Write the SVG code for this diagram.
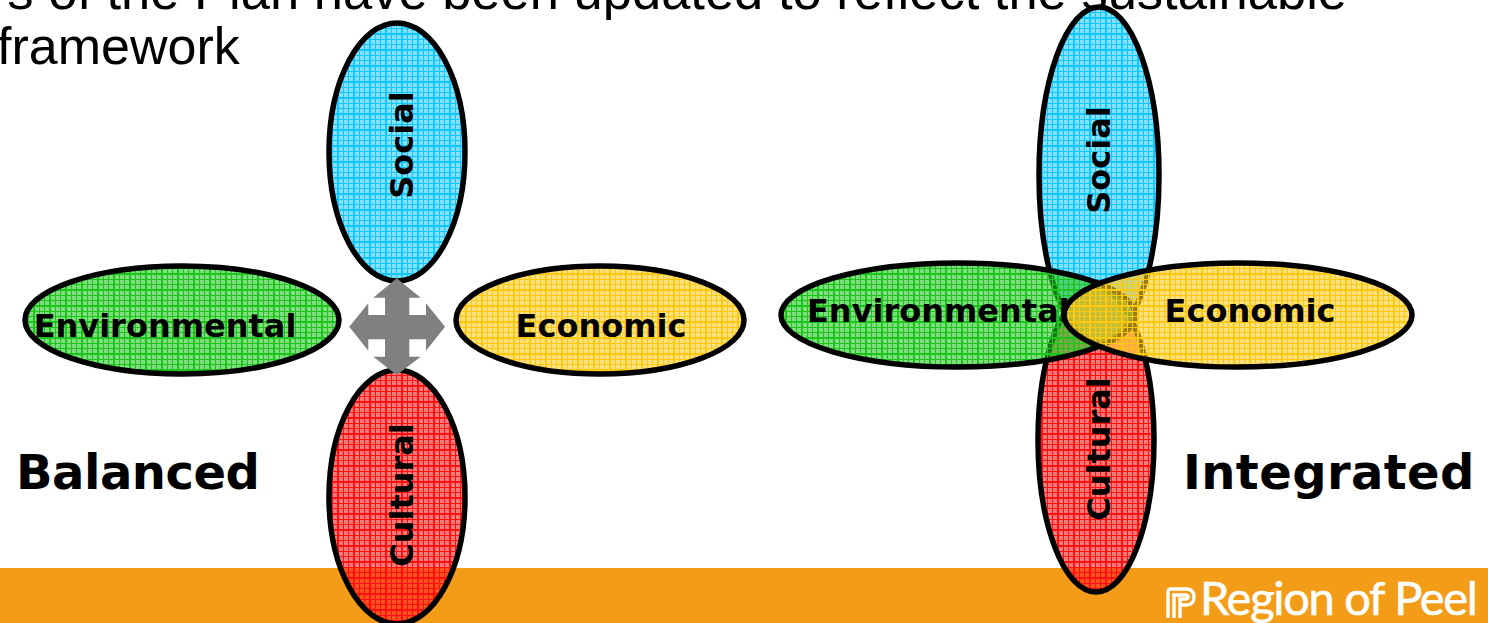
<svg xmlns="http://www.w3.org/2000/svg" width="1488" height="623" viewBox="0 0 1488 623">
<style>
.o{stroke:#000;stroke-width:5.5}
.l{font-family:"DejaVu Sans",Verdana,sans-serif;font-weight:700;fill:#000;font-size:32px}
.h{font-family:"DejaVu Sans",Verdana,sans-serif;font-weight:700;fill:#000;font-size:48px}
.b{font-family:"Liberation Sans",Arial,sans-serif;font-size:52.5px;fill:#000}
.g{fill:none}
</style>
<defs>
<pattern id="pb" width="16" height="16" patternUnits="userSpaceOnUse"><rect width="16" height="16" fill="#30ccff" fill-opacity=".6"/><path class="g" stroke="#10c8ff" stroke-width="2" d="M2 0V16M0 2H16"/><path class="g" stroke="#10c8ff" d="M7.5 0V16M12.5 0V16M0 7.5H16M0 12.5H16"/></pattern>
<pattern id="pg" width="16" height="16" patternUnits="userSpaceOnUse"><rect width="16" height="16" fill="#28c828" fill-opacity=".6"/><path class="g" stroke="#1cc41c" stroke-width="2" d="M2 0V16M0 2H16"/><path class="g" stroke="#1cc41c" d="M7.5 0V16M12.5 0V16M0 7.5H16M0 12.5H16"/></pattern>
<pattern id="py" width="16" height="16" patternUnits="userSpaceOnUse"><rect width="16" height="16" fill="#ffcc28" fill-opacity=".6"/><path class="g" stroke="#fcc810" stroke-width="2" d="M2 0V16M0 2H16"/><path class="g" stroke="#fcc810" d="M7.5 0V16M12.5 0V16M0 7.5H16M0 12.5H16"/></pattern>
<pattern id="pr" width="16" height="16" patternUnits="userSpaceOnUse"><rect width="16" height="16" fill="#ff2020" fill-opacity=".6"/><path class="g" stroke="#ff1010" stroke-width="2" d="M2 0V16M0 2H16"/><path class="g" stroke="#ff1010" d="M7.5 0V16M12.5 0V16M0 7.5H16M0 12.5H16"/></pattern>
</defs>
<rect width="1488" height="623" fill="#fff"/>
<g id="heading">
<text class="b" x="1347" y="9" text-anchor="end">s of the Plan have been updated to reflect the sustainable</text>
<text class="b" style="font-size:52px" x="-3" y="64">framework</text>
</g>
<g id="footer">
<rect x="0" y="568" width="1488" height="55" fill="#f39c18"/>
<path d="M1168 618V592Q1168 589 1171 589H1186Q1194 589 1194 597Q1194 605 1186 605H1180M1174 618V595H1185Q1188 595 1188 597Q1188 599 1185 599H1180V618" fill="none" stroke="#fff" stroke-width="3.4"/>
<text x="1200" y="615" font-family="Lato,'Open Sans',sans-serif" font-size="47" fill="#fff" stroke="#fff" stroke-width=".6" letter-spacing="-1.3">Region of Peel</text>
</g>
<g id="balanced-social"><ellipse class="o" cx="397" cy="152" rx="68" ry="129" fill="url(#pb)"/><text class="l" transform="translate(413,145) rotate(-90)" text-anchor="middle">Social</text></g>
<g id="balanced-cultural"><ellipse class="o" cx="397" cy="497" rx="68" ry="127" fill="url(#pr)"/><text class="l" transform="translate(413,495) rotate(-90)" text-anchor="middle">Cultural</text></g>
<g id="balanced-environmental"><ellipse class="o" cx="182" cy="320" rx="157" ry="54" fill="url(#pg)"/><text class="l" x="165" y="337" text-anchor="middle">Environmental</text></g>
<g id="balanced-economic"><ellipse class="o" cx="600" cy="320" rx="144" ry="54" fill="url(#py)"/><text class="l" x="601" y="337" text-anchor="middle">Economic</text></g>
<g id="balanced-label"><text class="h" x="16" y="489" letter-spacing="-.5">Balanced</text></g>
<g id="integrated-social"><ellipse class="o" cx="1099" cy="175" rx="60" ry="168" fill="url(#pb)"/><text class="l" transform="translate(1110,160) rotate(-90)" text-anchor="middle">Social</text></g>
<g id="integrated-cultural"><ellipse class="o" cx="1096" cy="440" rx="58" ry="152" fill="url(#pr)"/><text class="l" transform="translate(1110,449) rotate(-90)" text-anchor="middle">Cultural</text></g>
<g id="integrated-environmental"><ellipse class="o" cx="958" cy="315" rx="177" ry="52" fill="url(#pg)"/><text class="l" x="807" y="322">Environmental</text></g>
<g id="integrated-economic"><ellipse class="o" cx="1238" cy="315" rx="174" ry="52" fill="url(#py)"/><text class="l" x="1250" y="322" text-anchor="middle">Economic</text></g>
<g id="integrated-label"><text class="h" x="1183" y="489" letter-spacing=".4">Integrated</text></g>
<g id="connectors">
<polygon fill="#808080" points="396.7,278.3 420.7,297.7 409.3,297.7 409.3,315 426,315 426,303.3 445,326.7 426,350.7 426,339.3 409.3,339.3 409.3,356.7 420.7,356.7 396.7,375 373.3,356.7 385,356.7 385,339.3 368.3,339.3 368.3,350.7 349.3,326.7 368.3,303.3 368.3,315 385,315 385,297.7 373.3,297.7"/>
</g>
</svg>
